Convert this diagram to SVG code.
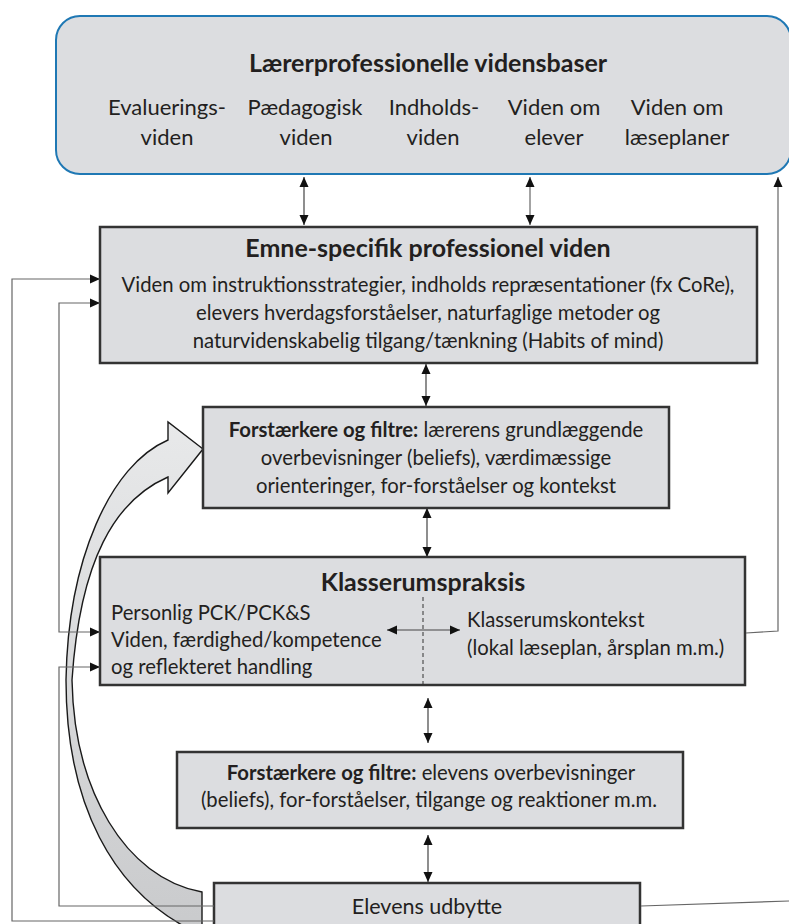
<svg xmlns="http://www.w3.org/2000/svg" width="789" height="924" viewBox="0 0 789 924">
<style>
text{font-family:Lato,"Liberation Sans",sans-serif;fill:#231f20}
.t{font-weight:bold;font-size:25px}
.r{font-size:22px}
.b{font-size:20.3px}
.bx{fill:#dcdde0;stroke:#333;stroke-width:2.5}
.ln{fill:none;stroke:#444;stroke-width:1.2}
.lg{fill:none;stroke:#666;stroke-width:1.2}
</style>
<defs>
<marker id="ah" markerUnits="userSpaceOnUse" markerWidth="10" markerHeight="10" refX="10" refY="5" orient="auto-start-reverse" viewBox="0 0 10 10">
<path d="M0,0.5 L10,5 L0,9.5 z" fill="#111"/>
</marker>
<linearGradient id="ga" x1="0" y1="0" x2="0" y2="1">
<stop offset="0" stop-color="#e8e9ea"/>
<stop offset="1" stop-color="#c9cacc"/>
</linearGradient>
</defs>

<g id="curved-arrow">
<path d="M203,449 L168,422 L168,440 C110,465 68,560 66,680 C66,800 110,895 202,935 L202,892 C125,878 74,790 72,680 C80,560 115,500 168,477 L168,493 Z" fill="url(#ga)" stroke="#1a1a1a" stroke-width="1.4" stroke-linejoin="miter"/>
</g>

<g id="n-videnbaser">
<rect x="56" y="16" width="735" height="158" rx="24" fill="#dcdde0" stroke="#1f78b4" stroke-width="2"/>
<text class="t" x="428" y="72" text-anchor="middle" font-size="26">Lærerprofessionelle vidensbaser</text>
<text class="r" x="167" y="115" text-anchor="middle">Evaluerings-</text>
<text class="r" x="167" y="145" text-anchor="middle">viden</text>
<text class="r" x="305" y="115" text-anchor="middle">Pædagogisk</text>
<text class="r" x="306" y="145" text-anchor="middle">viden</text>
<text class="r" x="434" y="115" text-anchor="middle">Indholds-</text>
<text class="r" x="433" y="145" text-anchor="middle">viden</text>
<text class="r" x="554" y="115" text-anchor="middle">Viden om</text>
<text class="r" x="554" y="145" text-anchor="middle">elever</text>
<text class="r" x="677" y="115" text-anchor="middle">Viden om</text>
<text class="r" x="677" y="145" text-anchor="middle">læseplaner</text>
</g>

<g id="n-emne">
<rect class="bx" x="100" y="227" width="657" height="136"/>
<text class="t" x="428" y="257" text-anchor="middle">Emne-specifik professionel viden</text>
<text class="b" x="428" y="292" text-anchor="middle">Viden om instruktionsstrategier, indholds repræsentationer (fx CoRe),</text>
<text class="b" x="428" y="320" text-anchor="middle">elevers hverdagsforståelser, naturfaglige metoder og</text>
<text class="b" x="428" y="348" text-anchor="middle">naturvidenskabelig tilgang/tænkning (Habits of mind)</text>
</g>

<g id="n-filtre-laerer">
<rect class="bx" x="203" y="407" width="466" height="101"/>
<text class="b" x="436" y="437" text-anchor="middle"><tspan font-weight="bold">Forstærkere og filtre:</tspan> lærerens grundlæggende</text>
<text class="b" x="436" y="465" text-anchor="middle">overbevisninger (beliefs),  værdimæssige</text>
<text class="b" x="436" y="493" text-anchor="middle">orienteringer, for-forståelser og kontekst</text>
</g>

<g id="n-klasserum">
<rect class="bx" x="100" y="557" width="645" height="128"/>
<text class="t" x="423" y="591" text-anchor="middle">Klasserumspraksis</text>
<text class="b" x="111" y="620">Personlig PCK/PCK&amp;S</text>
<text class="b" x="111" y="647">Viden, færdighed/kompetence</text>
<text class="b" x="111" y="674">og reflekteret handling</text>
<text class="b" x="467" y="627" font-size="20.8">Klasserumskontekst</text>
<text class="b" x="467" y="655" font-size="20.8">(lokal læseplan, årsplan m.m.)</text>
<line x1="423" y1="597" x2="423" y2="685" stroke="#333" stroke-width="1" stroke-dasharray="4,3"/>
</g>

<g id="n-filtre-elev">
<rect class="bx" x="177" y="752" width="506" height="76"/>
<text class="b" x="431" y="780" text-anchor="middle"><tspan font-weight="bold">Forstærkere og filtre:</tspan> elevens overbevisninger</text>
<text class="b" x="429" y="807" text-anchor="middle">(beliefs), for-forståelser, tilgange og reaktioner m.m.</text>
</g>

<g id="n-udbytte">
<rect class="bx" x="214" y="883" width="426" height="60"/>
<text x="427" y="914" text-anchor="middle" font-size="21.5">Elevens udbytte</text>
</g>

<g id="connectors">
<line class="ln" x1="304" y1="177" x2="304" y2="225" marker-start="url(#ah)" marker-end="url(#ah)"/>
<line class="lg" x1="530" y1="177" x2="530" y2="225" marker-start="url(#ah)" marker-end="url(#ah)"/>
<line class="ln" x1="426" y1="364" x2="426" y2="406" marker-start="url(#ah)" marker-end="url(#ah)"/>
<line class="ln" x1="427" y1="508" x2="427" y2="557" marker-start="url(#ah)" marker-end="url(#ah)"/>
<line class="ln" x1="428" y1="698" x2="428" y2="743" marker-start="url(#ah)" marker-end="url(#ah)"/>
<line class="ln" x1="428" y1="835" x2="428" y2="882" marker-start="url(#ah)" marker-end="url(#ah)"/>
<line class="ln" x1="387" y1="630" x2="460" y2="630" marker-start="url(#ah)" marker-end="url(#ah)"/>
<polyline class="lg" points="746,633 778,631 778,177" marker-end="url(#ah)"/>
<polyline class="lg" points="214,921 12,921 12,279 100,279" marker-end="url(#ah)"/>
<polyline class="lg" points="100,632 59,632 59,303 100,303" marker-start="url(#ah)" marker-end="url(#ah)"/>
<polyline class="lg" points="214,906 59,906 59,667 100,667" marker-end="url(#ah)"/>
<line class="lg" x1="641" y1="906" x2="789" y2="901"/>
</g>
</svg>
